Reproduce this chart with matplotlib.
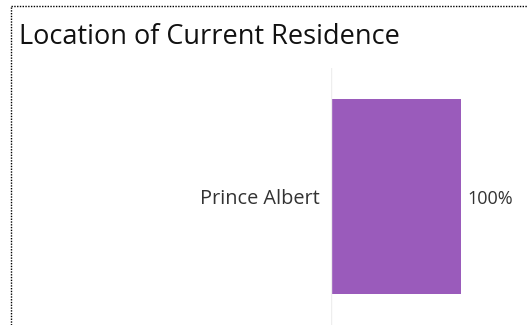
import matplotlib.pyplot as plt
from matplotlib.lines import Line2D

plt.rcParams['font.family'] = ['Open Sans', 'DejaVu Sans']

title = "Location of Current Residence"
locations = ["Prince Albert"]
shares = [1.0]
share_labels = ["100%"]

W, H = 527, 325
fig = plt.figure(figsize=(W / 100, H / 100), dpi=100)

# dotted frame on top and left
fig.add_artist(Line2D([10.5 / W, 1], [1 - 5.5 / H, 1 - 5.5 / H], color="black",
                      linestyle=(0, (1, 1)), linewidth=1, transform=fig.transFigure))
fig.add_artist(Line2D([10.5 / W, 10.5 / W], [0, 1 - 5.5 / H], color="black",
                      linestyle=(0, (1, 1)), linewidth=1, transform=fig.transFigure))

fig.text(19 / W, 1 - 44 / H, title, fontsize=19.5, color="#111111", ha="left", va="baseline")

ax = fig.add_axes([331 / W, 0, 130 / W, 1 - 68 / H])
ax.barh(range(len(locations)), shares, height=0.76, color="#9A5BBB")
ax.set_xlim(0, 1)
ax.set_ylim(-0.5, 0.5)
for i, (loc, lab) in enumerate(zip(locations, share_labels)):
    ax.text(-0.085, i - 0.01, loc, ha="right", va="center", fontsize=14.3, color="#333333")
    ax.text(shares[i] + 0.05, i - 0.01, lab, ha="left", va="center", fontsize=13, color="#333333")
ax.set_xticks([])
ax.set_yticks([])
for s in ax.spines.values():
    s.set_visible(False)
ax.axvline(0, color="#eeeeee", linewidth=1)

fig.savefig("out.png", dpi=100)
